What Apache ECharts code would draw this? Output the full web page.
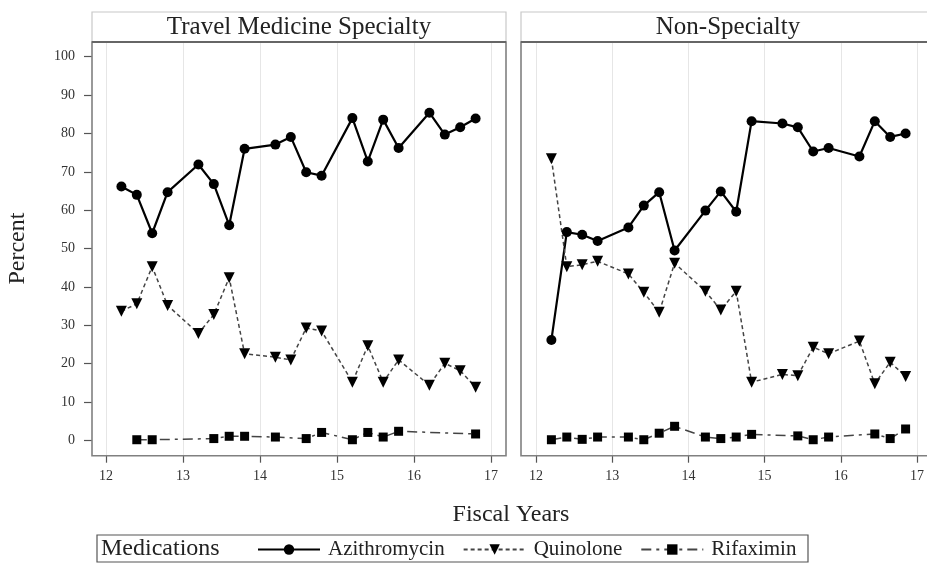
<!DOCTYPE html>
<html>
<head>
<meta charset="utf-8">
<script src="https://cdn.jsdelivr.net/npm/echarts@6/dist/echarts.min.js"></script>
<style>
  html, body { margin: 0; padding: 0; background: #fff; }
  #main { width: 927px; height: 563px; }
</style>
</head>
<body>
<div id="main"></div>
<script>
// fiscal year quarters (x positions)
var quarters = [12.2, 12.4, 12.6, 12.8, 13.2, 13.4, 13.6, 13.8, 14.2, 14.4, 14.6, 14.8, 15.2, 15.4, 15.6, 15.8, 16.2, 16.4, 16.6, 16.8];
var yearTicks = [12, 13, 14, 15, 16, 17];
var panels = ['Travel Medicine Specialty', 'Non-Specialty'];
var medications = ['Azithromycin', 'Quinolone', 'Rifaximin'];

// Travel Medicine Specialty
var azithTravel = [66.2, 64.0, 54.0, 64.7, 71.9, 66.8, 56.1, 76.0, 77.1, 79.1, 69.9, 69.0, 84.0, 72.7, 83.6, 76.2, 85.4, 79.7, 81.6, 83.9];
var quinTravel = [33.7, 35.6, 45.3, 35.2, 27.9, 32.8, 42.4, 22.6, 21.7, 21.0, 29.3, 28.5, 15.2, 24.7, 15.2, 21.0, 14.4, 20.1, 18.2, 13.9];
var rifaTravel = [null, 0.2, 0.2, null, null, 0.5, 1.1, 1.1, 0.9, null, 0.5, 2.1, 0.2, 2.1, 0.9, 2.4, null, null, null, 1.7];

// Non-Specialty
var azithNon = [26.2, 54.3, 53.6, 52.0, 55.5, 61.2, 64.7, 49.5, 59.9, 64.9, 59.6, 83.2, 82.6, 81.6, 75.3, 76.2, 74.0, 83.2, 79.1, 80.0];
var quinNon = [73.4, 45.3, 45.8, 46.7, 43.4, 38.6, 33.4, 46.2, 38.9, 34.0, 38.9, 15.2, 17.2, 16.9, 24.3, 22.6, 25.9, 14.8, 20.4, 16.7];
var rifaNon = [0.2, 0.9, 0.3, 0.9, 0.9, 0.2, 1.9, 3.7, 0.9, 0.5, 0.9, 1.6, null, 1.2, 0.2, 0.9, null, 1.7, 0.5, 3.0];

var FONT = 'Liberation Serif';

function pairs(vals) {
  var out = [];
  quarters.forEach(function (q, i) {
    if (vals[i] != null) out.push([q, vals[i]]);
  });
  return out;
}

var styles = {
  Azithromycin: { symbol: 'circle', symbolSize: 10, symbolRotate: 0, lineStyle: { color: '#000', width: 2.2, type: 'solid' }, itemStyle: { color: '#000' } },
  Quinolone: { symbol: 'triangle', symbolSize: 11, symbolRotate: 180, lineStyle: { color: '#444', width: 1.5, type: [4, 3] }, itemStyle: { color: '#000' } },
  Rifaximin: { symbol: 'rect', symbolSize: 9, symbolRotate: 0, lineStyle: { color: '#444', width: 1.5, type: [10, 5, 3, 5] }, itemStyle: { color: '#000' } }
};

function makeSeries(name, vals, axisIdx) {
  var s = styles[name];
  return {
    name: name,
    type: 'line',
    xAxisIndex: axisIdx,
    yAxisIndex: axisIdx,
    data: pairs(vals),
    symbol: s.symbol,
    symbolSize: s.symbolSize,
    symbolRotate: s.symbolRotate,
    lineStyle: s.lineStyle,
    itemStyle: s.itemStyle,
    clip: false,
    animation: false
  };
}

var panelLeft = [106, 536];
var frameLeft = [92, 521];
var frameW = 414;

var grids = [], xAxes = [], yAxes = [];
panelLeft.forEach(function (left, p) {
  // outer grid: x axis ticks + vertical grid lines
  grids.push({ left: left, top: 42, width: 385, height: 413.7 });
  // inner grid: data area, 0..100
  grids.push({ left: left, top: 56.7, width: 385, height: 383.8 });
  xAxes.push({
    type: 'value', gridIndex: 2 * p, min: 12, max: 17, interval: 1,
    axisLine: { show: false },
    axisTick: { show: true, length: 7, lineStyle: { color: '#555', width: 1.2 } },
    axisLabel: { fontFamily: FONT, fontSize: 14, color: '#333', margin: 14 },
    splitLine: { show: true, lineStyle: { color: '#e6e6e6', width: 1 } }
  });
  xAxes.push({ type: 'value', gridIndex: 2 * p + 1, min: 12, max: 17, show: false });
  yAxes.push({ type: 'value', gridIndex: 2 * p, min: 0, max: 1, show: false });
  yAxes.push({
    type: 'value', gridIndex: 2 * p + 1, min: 0, max: 100, interval: 10,
    offset: 14,
    axisLine: { show: false },
    axisTick: { show: p === 0, length: 8, lineStyle: { color: '#555', width: 1.2 } },
    axisLabel: { show: p === 0, fontFamily: FONT, fontSize: 14, color: '#333', margin: 17 },
    splitLine: { show: false },
    name: p === 0 ? 'Percent' : '',
    nameLocation: 'middle',
    nameGap: 62,
    nameTextStyle: { fontFamily: FONT, fontSize: 24, color: '#222' }
  });
});

var series = [
  makeSeries('Azithromycin', azithTravel, 1),
  makeSeries('Quinolone', quinTravel, 1),
  makeSeries('Rifaximin', rifaTravel, 1),
  makeSeries('Azithromycin', azithNon, 3),
  makeSeries('Quinolone', quinNon, 3),
  makeSeries('Rifaximin', rifaNon, 3)
];

var graphics = [];
panels.forEach(function (title, p) {
  var x = frameLeft[p];
  graphics.push({ type: 'rect', shape: { x: x, y: 12, width: frameW, height: 30 }, style: { fill: '#fff', stroke: '#c8c8c8', lineWidth: 1.2 }, z: 1 });
  graphics.push({ type: 'rect', shape: { x: x, y: 42, width: frameW, height: 413.7 }, style: { fill: 'transparent', stroke: '#808080', lineWidth: 1.6 }, z: 1 });
  graphics.push({ type: 'line', shape: { x1: x, y1: 42, x2: x + frameW, y2: 42 }, style: { stroke: '#666', lineWidth: 2 }, z: 2 });
  graphics.push({ type: 'text', x: x + frameW / 2, y: 27, style: { text: title, font: '25px "Liberation Serif"', fill: '#222', textAlign: 'center', textVerticalAlign: 'middle' }, z: 3 });
});
graphics.push({ type: 'text', x: 511, y: 515, style: { text: 'Fiscal Years', font: '24px "Liberation Serif"', fill: '#222', textAlign: 'center', textVerticalAlign: 'middle' } });
graphics.push({ type: 'rect', shape: { x: 97, y: 535, width: 711, height: 27 }, style: { fill: 'transparent', stroke: '#555', lineWidth: 1.2 } });
graphics.push({ type: 'text', x: 101, y: 549, style: { text: 'Medications', font: '24px "Liberation Serif"', fill: '#222', textAlign: 'left', textVerticalAlign: 'middle' } });

var myChart = echarts.init(document.getElementById('main'));
myChart.setOption({
  animation: false,
  backgroundColor: '#fff',
  grid: grids,
  xAxis: xAxes,
  yAxis: yAxes,
  legend: {
    data: medications,
    left: 257,
    top: 539,
    padding: 0,
    itemWidth: 62,
    itemHeight: 13,
    itemGap: 18,
    textStyle: { fontFamily: FONT, fontSize: 21, color: '#222', padding: [0, 0, 0, 3] },
    selectedMode: false
  },
  graphic: graphics,
  series: series
});
</script>
</body>
</html>
